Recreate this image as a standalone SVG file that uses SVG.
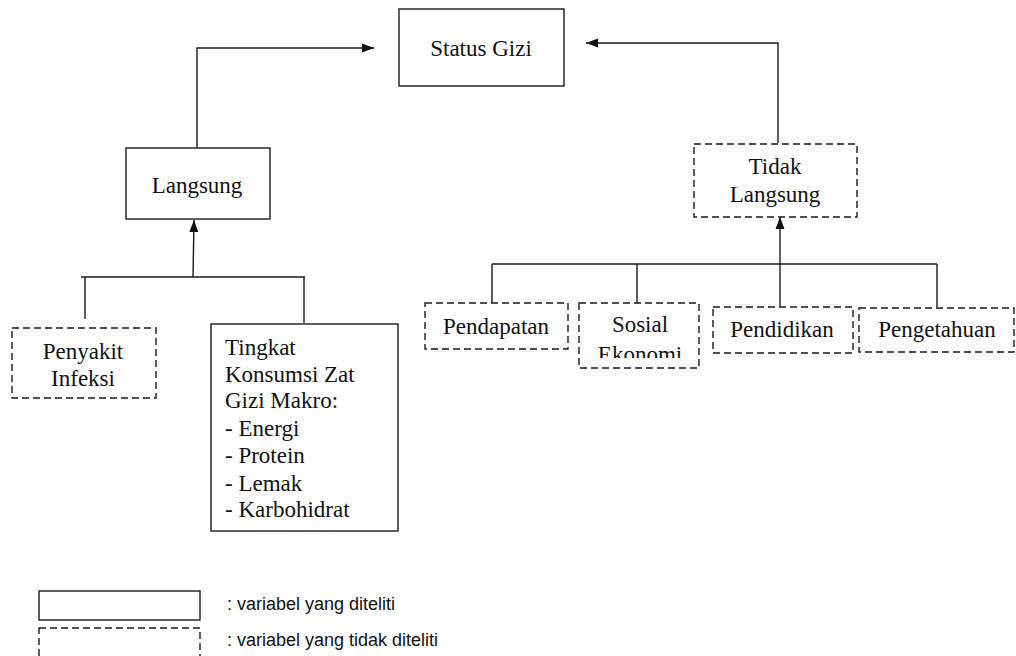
<svg xmlns="http://www.w3.org/2000/svg" width="1016" height="656" viewBox="0 0 1016 656">
<style>
.box{fill:#fff;stroke:#1a1a1a;stroke-width:1.4}
.dash{fill:#fff;stroke:#1a1a1a;stroke-width:1.4;stroke-dasharray:7 4}
.t{font-family:"Liberation Serif","Times New Roman",serif;font-size:23px;fill:#111}
.c{text-anchor:middle}
.lg{font-family:"Liberation Sans",Arial,sans-serif;font-size:18px;fill:#111}
.ln{fill:none;stroke:#1a1a1a;stroke-width:1.4}
</style>
<defs>
<marker id="ah" viewBox="0 0 12 10" refX="12" refY="5" markerWidth="12" markerHeight="10" markerUnits="userSpaceOnUse" orient="auto">
<path d="M0,0.5 L12,5 L0,9.5 Z" fill="#111"/>
</marker>
<clipPath id="clipSosial"><rect x="579" y="303" width="120" height="55"/></clipPath>
</defs>

<g id="connectors">
<path class="ln" d="M197,148 V48 H374" marker-end="url(#ah)"/>
<path class="ln" d="M193,277 L194,220" marker-end="url(#ah)"/>
<path class="ln" d="M81,277 H305 M85,277 V319 M304,277 V323"/>
<path class="ln" d="M778,143 V43 H586" marker-end="url(#ah)"/>
<path class="ln" d="M780,310 V217" marker-end="url(#ah)"/>
<path class="ln" d="M492,264 H937 M492,264 V303 M637,264 V303 M937,264 V307"/>
</g>

<g id="status-gizi">
<rect class="box" x="399" y="9" width="165" height="77"/>
<text class="t c" x="481" y="56">Status Gizi</text>
</g>

<g id="langsung">
<rect class="box" x="126" y="148" width="144" height="71"/>
<text class="t c" x="197" y="193">Langsung</text>
</g>

<g id="tidak-langsung">
<rect class="dash" x="694" y="144" width="163" height="73"/>
<text class="t c" x="775" y="174">Tidak</text>
<text class="t c" x="775" y="202">Langsung</text>
</g>

<g id="penyakit-infeksi">
<rect class="dash" x="12" y="328" width="144" height="70"/>
<text class="t c" x="83" y="359">Penyakit</text>
<text class="t c" x="83" y="386">Infeksi</text>
</g>

<g id="tingkat-konsumsi">
<rect class="box" x="211" y="324" width="187" height="207"/>
<text class="t" x="225" y="355">Tingkat</text>
<text class="t" x="225" y="382">Konsumsi Zat</text>
<text class="t" x="225" y="408">Gizi Makro:</text>
<text class="t" x="225" y="436">- Energi</text>
<text class="t" x="225" y="463">- Protein</text>
<text class="t" x="225" y="491">- Lemak</text>
<text class="t" x="225" y="517">- Karbohidrat</text>
</g>

<g id="pendapatan">
<rect class="dash" x="425" y="303" width="143" height="46"/>
<text class="t c" x="496" y="334">Pendapatan</text>
</g>

<g id="sosial-ekonomi">
<rect class="dash" x="579" y="303" width="120" height="65"/>
<text class="t c" x="640" y="332">Sosial</text>
<text class="t c" x="640" y="362" clip-path="url(#clipSosial)">Ekonomi</text>
</g>

<g id="pendidikan">
<rect class="dash" x="713" y="307" width="140" height="46"/>
<text class="t c" x="782" y="337">Pendidikan</text>
</g>

<g id="pengetahuan">
<rect class="dash" x="859" y="308" width="155" height="44"/>
<text class="t c" x="937" y="337">Pengetahuan</text>
</g>

<g id="legend">
<rect class="box" x="39" y="591" width="161" height="29"/>
<rect class="dash" x="39" y="628" width="161" height="40"/>
<text class="lg" x="227" y="610">: variabel yang diteliti</text>
<text class="lg" x="227" y="646">: variabel yang tidak diteliti</text>
</g>
</svg>
